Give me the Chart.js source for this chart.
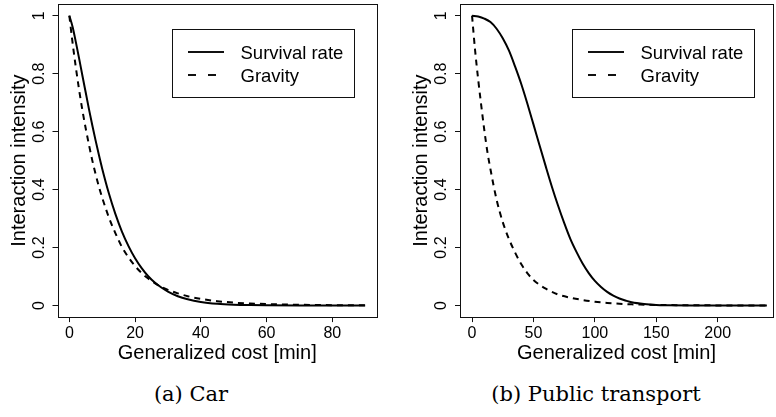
<!DOCTYPE html>
<html>
<head>
<meta charset="utf-8">
<title>Interaction intensity vs generalized cost</title>
<script src="https://cdn.jsdelivr.net/npm/chart.js@4.4.1/dist/chart.umd.min.js"></script>
<style>
  body { margin: 0; background: #fff; width: 776px; height: 417px; overflow: hidden; position: relative; }
  .panel { position: absolute; top: 0; width: 388px; height: 372px; }
  .caption { position: absolute; top: 384px; font-family: "DejaVu Serif", serif; font-size: 21px; line-height: 21px;
             color: #000; transform: translateX(-50%); white-space: nowrap; }
</style>
</head>
<body>
<div class="panel" style="left:0"><canvas id="car_chart" width="388" height="372"></canvas></div>
<div class="panel" style="left:388px"><canvas id="pt_chart" width="388" height="372"></canvas></div>
<div class="caption" style="left:191px">(a) Car</div>
<div class="caption" style="left:596px">(b) Public transport</div>

<script>
// Car: cost in minutes and the two decay curves
const carCost = [0,1,2,3,4,5,6,7,8,9,10,12,14,16,18,20,22,24,26,28,30,33,36,40,45,50,55,60,70,80,90];
const carSurvival = [1,0.961,0.908,0.851,0.792,0.734,0.676,0.621,0.569,0.519,0.472,0.388,0.316,0.255,0.205,0.163,0.129,0.101,0.079,0.062,0.048,0.032,0.0215,0.0124,0.0061,0.0029,0.0014,0.0007,0.0001,0,0];
const carGravity = [1,0.905,0.82,0.742,0.672,0.61,0.553,0.5,0.453,0.41,0.372,0.305,0.25,0.202,0.166,0.136,0.112,0.093,0.077,0.064,0.054,0.042,0.032,0.023,0.015,0.01,0.007,0.005,0.0025,0.0012,0.0006];

// Public transport
const ptSurvCost = [0,5,10,15,20,25,30,35,40,45,50,55,60,65,70,75,80,85,90,95,100,105,110,115,120,125,130,140,150,160,180,200,220,240];
const ptSurvival = [1,0.997,0.99,0.978,0.955,0.922,0.88,0.825,0.765,0.697,0.625,0.552,0.48,0.41,0.345,0.285,0.23,0.185,0.145,0.112,0.085,0.064,0.047,0.034,0.024,0.017,0.011,0.005,0.002,0.001,0.0002,0,0,0];
const ptGravCost = [0,2.5,5,7.5,10,12.5,15,20,25,30,35,40,45,50,60,70,80,90,100,110,120,130,140,150,160,180,200,220,240];
const ptGravity = [1,0.88,0.78,0.69,0.605,0.53,0.47,0.365,0.288,0.23,0.183,0.143,0.112,0.088,0.058,0.038,0.027,0.019,0.013,0.009,0.006,0.004,0.003,0.002,0.0015,0.0008,0.0004,0.0002,0.0001];

// axis ticks
const carTicks = [0,20,40,60,80];
const ptTicks = [0,50,100,150,200];
const yTicks = [0,0.2,0.4,0.6,0.8,1];
const yTickLabels = ['0','0.2','0.4','0.6','0.8','1'];

const seriesNames = ['Survival rate','Gravity'];
const xTitle = 'Generalized cost [min]';
const yTitle = 'Interaction intensity';

const SANS = '"Liberation Sans", Arial, Helvetica, sans-serif';

function toPoints(xs, ys) {
  return xs.map((x, i) => ({x: x, y: ys[i]}));
}

// R-style box, rotated y labels, axis titles and the boxed legend
const rDecorations = {
  id: 'rDecorations',
  afterDraw(chart, args, opts) {
    const ctx = chart.ctx;
    const a = chart.chartArea;
    const xs = chart.scales.x, ys = chart.scales.y;
    ctx.save();
    ctx.strokeStyle = '#111';
    ctx.lineWidth = 1;
    ctx.setLineDash([]);
    const L = Math.round(a.left) + 0.5, T = Math.round(a.top) + 0.5;
    ctx.strokeRect(L, T, Math.round(a.right) - Math.round(a.left), Math.round(a.bottom) - Math.round(a.top));

    ctx.fillStyle = '#000';
    ctx.textBaseline = 'alphabetic';

    // x tick labels
    ctx.font = '16px ' + SANS;
    ctx.textAlign = 'center';
    xs.ticks.forEach(t => ctx.fillText(String(t.value), xs.getPixelForValue(t.value), a.bottom + 20.5));

    // y tick labels, rotated like R's default axis
    ys.ticks.forEach((t, i) => {
      ctx.save();
      ctx.translate(a.left - 13.8, ys.getPixelForValue(t.value));
      ctx.rotate(-Math.PI / 2);
      ctx.fillText(yTickLabels[i], 0, 0);
      ctx.restore();
    });

    // axis titles
    ctx.font = '20px ' + SANS;
    ctx.fillText(xTitle, (a.left + a.right) / 2, a.bottom + 41.5);
    ctx.save();
    ctx.translate(a.left - opts.yTitleGap, (a.top + a.bottom) / 2);
    ctx.rotate(-Math.PI / 2);
    ctx.fillText(yTitle, 0, 0);
    ctx.restore();

    // legend
    const bw = 182, bh = 68;
    const bx = Math.round(a.right - opts.legendRight - bw) + 0.5;
    const by = 29.5;
    ctx.strokeStyle = '#111';
    ctx.lineWidth = 1;
    ctx.strokeRect(bx, by, bw, bh);
    ctx.font = '18.5px ' + SANS;
    ctx.textAlign = 'left';
    chart.data.datasets.forEach((ds, i) => {
      const cy = by + 22.5 + i * 23.3;
      ctx.beginPath();
      ctx.lineWidth = 2;
      ctx.setLineDash(ds.legendDash);
      ctx.moveTo(bx + 15.5, Math.round(cy));
      ctx.lineTo(bx + 51.5, Math.round(cy));
      ctx.stroke();
      ctx.setLineDash([]);
      ctx.fillText(ds.label, bx + 68, cy + 6.6);
    });
    ctx.restore();
  }
};

function makePanel(canvasId, survival, gravity, xMin, xMax, xTicks, yAxisWidth, padRight, legendRight, yTitleGap) {
  return new Chart(document.getElementById(canvasId), {
    type: 'line',
    data: {
      datasets: [
        {
          label: seriesNames[0],
          data: survival,
          borderColor: '#000',
          borderWidth: 2,
          borderDash: [],
          legendDash: [],
          pointRadius: 0,
          fill: false,
          cubicInterpolationMode: 'monotone'
        },
        {
          label: seriesNames[1],
          data: gravity,
          borderColor: '#000',
          borderWidth: 2,
          borderDash: [6, 5],
          legendDash: [8, 12],
          pointRadius: 0,
          fill: false,
          cubicInterpolationMode: 'monotone'
        }
      ]
    },
    options: {
      responsive: false,
      animation: false,
      events: [],
      layout: { padding: { left: 0, right: padRight, top: 4.1, bottom: 0 } },
      plugins: {
        legend: { display: false },
        tooltip: { enabled: false },
        rDecorations: { legendRight: legendRight, yTitleGap: yTitleGap }
      },
      scales: {
        x: {
          type: 'linear',
          min: xMin,
          max: xMax,
          afterBuildTicks: s => { s.ticks = xTicks.map(v => ({value: v})); },
          afterFit: s => { s.height = 54.9; },
          ticks: { display: false },
          border: { display: false },
          grid: { drawOnChartArea: false, drawTicks: true, tickLength: 5, color: '#111', lineWidth: 1 }
        },
        y: {
          type: 'linear',
          min: -0.04,
          max: 1.04,
          afterBuildTicks: s => { s.ticks = yTicks.map(v => ({value: v})); },
          afterFit: s => { s.width = yAxisWidth; },
          ticks: { display: false },
          border: { display: false },
          grid: { drawOnChartArea: false, drawTicks: true, tickLength: 5, color: '#111', lineWidth: 1 }
        }
      }
    },
    plugins: [rDecorations]
  });
}

makePanel('car_chart', toPoints(carCost, carSurvival), toPoints(carCost, carGravity),
          -3.6, 93.6, carTicks, 57.5, 11, 23, 32.3);
makePanel('pt_chart', toPoints(ptSurvCost, ptSurvival), toPoints(ptGravCost, ptGravity),
          -9.8, 245, ptTicks, 72, 3, 19.5, 33.3);
</script>
</body>
</html>
